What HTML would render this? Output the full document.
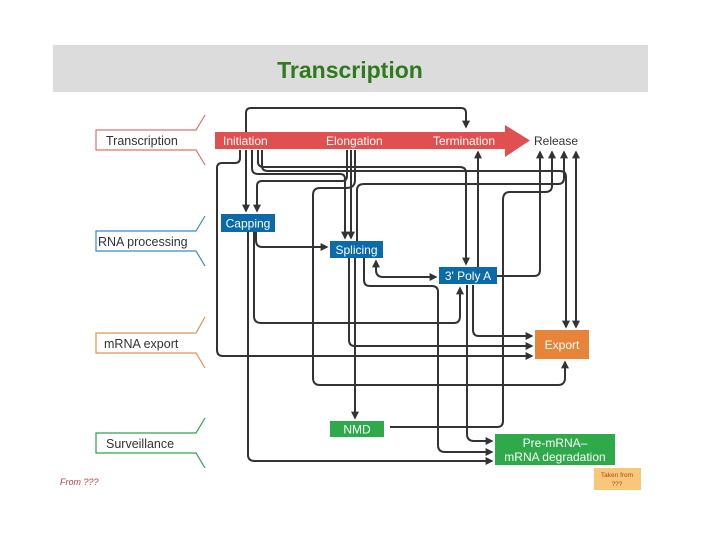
<!DOCTYPE html>
<html><head><meta charset="utf-8"><style>
body{margin:0;background:#fff;width:720px;height:540px;overflow:hidden}
svg{display:block}
text{font-family:"Liberation Sans",sans-serif}
</style></head><body>
<svg width="720" height="540" viewBox="0 0 720 540" xmlns="http://www.w3.org/2000/svg">
<defs>
<marker id="a" viewBox="0 0 10 10" refX="8" refY="5" markerWidth="4" markerHeight="4" orient="auto-start-reverse"><path d="M0,0L10,5L0,10z" fill="#333"/></marker>
</defs>
<rect x="53" y="45" width="595" height="47" fill="#dcdcdc"/>
<text x="350" y="78" text-anchor="middle" font-size="23" font-weight="bold" fill="#2f7a1f">Transcription</text>

<!-- left brackets -->
<g fill="none" stroke-width="1.2">
<path d="M205,115 L196,130 H96 V150 H196 L205,165" stroke="#e07070"/>
<path d="M205,216 L196,231 H96 V251 H196 L205,266" stroke="#3a8ac0"/>
<path d="M205,317 L196,333 H96 V353 H196 L205,368" stroke="#e89050"/>
<path d="M205,418 L196,433 H96 V453 H196 L205,468" stroke="#30a050"/>
</g>
<text x="106" y="145" font-size="12.5" fill="#333">Transcription</text>
<text x="98" y="246" font-size="12.5" fill="#333">RNA processing</text>
<text x="104" y="348" font-size="12.5" fill="#333">mRNA export</text>
<text x="106" y="448" font-size="12.5" fill="#333">Surveillance</text>
<text x="60" y="485" font-size="9" font-style="italic" fill="#c04040">From ???</text>

<!-- connectors -->
<g fill="none" stroke="#333" stroke-width="2">
<path d="M246,132 V113 Q246,108 251,108 H461 Q466,108 466,113 V127" marker-end="url(#a)"/>
<path d="M240,150 V158 Q240,163 235,163 H222 Q217,163 217,168 V350 Q217,356 223,356 H532" marker-end="url(#a)"/>
<path d="M246,150 V211" marker-end="url(#a)"/>
<path d="M347,150 V176 Q347,181 342,181 H262 Q257,181 257,186 V211" marker-end="url(#a)"/>
<path d="M252,150 V168 Q252,174 258,174 H340 Q345,174 345,179 V238" marker-end="url(#a)"/>
<path d="M351,150 V238" marker-end="url(#a)"/>
<path d="M258,150 V162 Q258,167 264,167 H460 Q466,167 466,173 V264" marker-end="url(#a)"/>
<path d="M262,150 V166 Q262,171 268,171 H560 Q566,171 566,177 V327" marker-end="url(#a)"/>
<path d="M576,152 V327" marker-end="url(#a)" marker-start="url(#a)"/>
<path d="M497,276 H534 Q540,276 540,270 V152" marker-end="url(#a)"/>
<path d="M390,427 H497 Q503,427 503,421 V200 Q503,192 510,192 H545 Q552,192 552,186 V152" marker-end="url(#a)"/>
<path d="M357,243 V190 Q357,184 364,184 H558 Q564,184 564,178 V152" marker-end="url(#a)"/>
<path d="M478,152 V267" marker-start="url(#a)"/>
<path d="M355,150 V180 Q355,188 346,188 H320 Q313,188 313,195 V378 Q313,385 320,385 H558 Q565,385 565,378 V362" marker-end="url(#a)"/>
<path d="M256,232 V240 Q256,247 262,247 H327" marker-end="url(#a)"/>
<path d="M376,261 V270 Q376,277 383,277 H436" marker-end="url(#a)" marker-start="url(#a)"/>
<path d="M364,258 V280 Q364,286 370,286 H432 Q438,286 438,292 V445 Q438,452 445,452 H492" marker-end="url(#a)"/>
<path d="M254,232 V316 Q254,323 261,323 H454 Q460,323 460,316 V288" marker-end="url(#a)"/>
<path d="M248,232 V455 Q248,461 255,461 H492" marker-end="url(#a)"/>
<path d="M349,258 V340 Q349,346 355,346 H532" marker-end="url(#a)"/>
<path d="M355,258 V418" marker-end="url(#a)"/>
<path d="M473,285 V330 Q473,336 479,336 H532" marker-end="url(#a)"/>
<path d="M467,285 V434 Q467,441 474,441 H492" marker-end="url(#a)"/>
</g>

<!-- red arrow -->
<path d="M215,132 H505 V125 L530,140.5 L505,157 V149 H215 Z" fill="#e05050"/>
<text x="223" y="145" font-size="12" fill="#fff">Initiation</text>
<text x="326" y="145" font-size="12" fill="#fff">Elongation</text>
<text x="433" y="145" font-size="12" fill="#fff">Termination</text>
<text x="534" y="145" font-size="12" fill="#333">Release</text>

<rect x="221" y="214" width="54" height="18" fill="#0a6aaa"/>
<text x="248" y="227.5" font-size="12" fill="#fff" text-anchor="middle">Capping</text>
<rect x="330" y="241" width="53" height="17" fill="#0a6aaa"/>
<text x="356.5" y="254" font-size="12" fill="#fff" text-anchor="middle">Splicing</text>
<rect x="439" y="267" width="58" height="17" fill="#0a6aaa"/>
<text x="468" y="280" font-size="12" fill="#fff" text-anchor="middle">3' Poly A</text>
<rect x="535" y="330" width="54" height="29" fill="#e8833a"/>
<text x="562" y="349" font-size="12" fill="#fff" text-anchor="middle">Export</text>
<rect x="330" y="421" width="54" height="16" fill="#2faa4a"/>
<text x="357" y="433.5" font-size="12" fill="#fff" text-anchor="middle">NMD</text>
<rect x="495" y="434" width="120" height="31" fill="#2faa4a"/>
<text x="555" y="447" font-size="12" fill="#fff" text-anchor="middle">Pre-mRNA–</text>
<text x="555" y="461" font-size="12" fill="#fff" text-anchor="middle">mRNA degradation</text>

<rect x="594" y="468" width="47" height="22" fill="#f8c878"/>
<text x="617" y="477" font-size="6.5" fill="#b04030" text-anchor="middle">Taken from</text>
<text x="617" y="486" font-size="6.5" fill="#b04030" text-anchor="middle">???</text>
</svg>
</body></html>
